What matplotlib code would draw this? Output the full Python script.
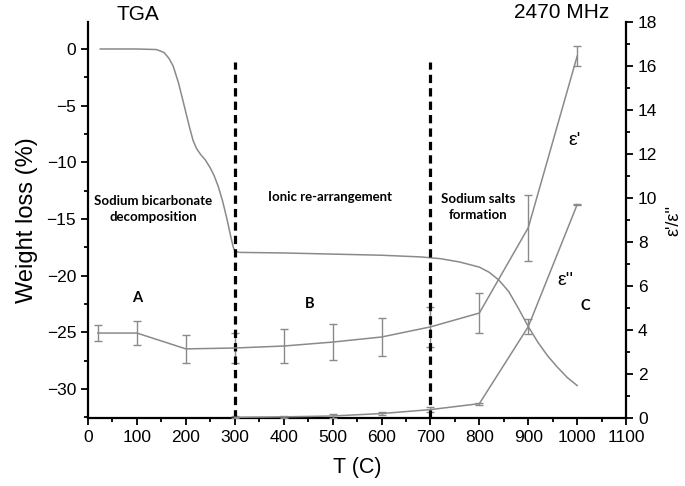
import matplotlib
matplotlib.use("Agg")
import matplotlib.pyplot as plt
from matplotlib.ticker import MultipleLocator

plt.rcParams['font.family'] = ['Liberation Sans', 'DejaVu Sans']

# TGA curve (weight loss, left axis)
tga_t = [25, 60, 100, 140, 155, 165, 174, 185, 192, 200, 208, 215, 222, 230,
         240, 250, 258, 266, 275, 284, 292, 297, 300, 310, 400, 500, 600, 680,
         720, 760, 800, 820, 840, 860, 880, 900, 920, 940, 960, 980, 1000]
tga_w = [0.0, 0.0, 0.0, -0.05, -0.3, -0.8, -1.5, -3.0, -4.2, -5.6, -7.0, -8.1,
         -8.8, -9.3, -9.8, -10.5, -11.2, -12.1, -13.4, -15.0, -16.6, -17.5,
         -17.85, -17.95, -18.0, -18.1, -18.2, -18.35, -18.5, -18.8, -19.25,
         -19.7, -20.4, -21.4, -22.9, -24.5, -25.9, -27.1, -28.1, -29.0, -29.7]

# dielectric data (right axis)
eps_t = [20, 100, 200, 300, 400, 500, 600, 700, 800, 900, 1000]
eps1 = [3.86, 3.86, 3.14, 3.18, 3.27, 3.45, 3.68, 4.14, 4.77, 8.65, 16.45]
eps1_err = [0.37, 0.55, 0.65, 0.7, 0.77, 0.8, 0.85, 0.9, 0.9, 1.5, 0.45]

eps2_t = [300, 400, 500, 600, 700, 800, 900, 1000]
eps2 = [0.03, 0.05, 0.09, 0.2, 0.38, 0.65, 4.15, 9.7]
eps2_err = [0.04, 0.04, 0.08, 0.08, 0.1, 0.05, 0.35, 0.03]

region_edges = [300, 700]

gray = '#8a8a8a'

fig = plt.figure(figsize=(6.85, 4.86), dpi=100)
ax = fig.add_axes([0.1285, 0.140, 0.7855, 0.8147])
ax2 = ax.twinx()

ax.plot(tga_t, tga_w, color=gray, lw=1.1)

ax2.errorbar(eps_t, eps1, yerr=eps1_err, color=gray, lw=1.1, capsize=2.6,
             elinewidth=1.0, capthick=1.0)
ax2.errorbar(eps2_t, eps2, yerr=eps2_err, color=gray, lw=1.1, capsize=2.6,
             elinewidth=1.0, capthick=1.0)

for xe in region_edges:
    ax2.axvline(xe, ymin=0, ymax=0.899, color='black', lw=2.3,
                linestyle=(0, (2.6, 1.6)))

ax.set_xlim(0, 1100)
ax.set_ylim(-32.56, 2.38)
ax2.set_ylim(0, 18)

ax.xaxis.set_major_locator(MultipleLocator(100))
ax.xaxis.set_minor_locator(MultipleLocator(50))
ax.yaxis.set_major_locator(MultipleLocator(5))
ax.yaxis.set_minor_locator(MultipleLocator(2.5))
ax2.yaxis.set_major_locator(MultipleLocator(2))
ax2.yaxis.set_minor_locator(MultipleLocator(1))

for a in (ax, ax2):
    a.spines['top'].set_visible(False)
    for s in ('left', 'right', 'bottom'):
        a.spines[s].set_linewidth(1.6)
    a.tick_params(which='major', length=5, width=1.3, labelsize=12.5,
                  direction='out')
    a.tick_params(which='minor', length=2.6, width=1.3, direction='out')
ax.spines['right'].set_visible(False)
ax2.spines['left'].set_visible(False)
ax2.spines['bottom'].set_visible(False)

ax.set_xlabel('T (C)', fontsize=15.5, labelpad=9)
ax.set_ylabel('Weight loss (%)', fontsize=17, labelpad=6)
ax2.set_ylabel("ε'/ε''", fontsize=13, labelpad=6)

ax2.text(102, 18.35, 'TGA', fontsize=15, ha='center', va='center', clip_on=False)
ax2.text(969, 18.45, '2470 MHz', fontsize=15, ha='center', va='center', clip_on=False)

bold = dict(family=['Lato', 'DejaVu Sans'], weight='bold', fontsize=9.5,
            ha='center', va='center', linespacing=1.35)
ax2.text(133, 9.5, 'Sodium bicarbonate\ndecomposition', **bold)
ax2.text(495, 10.05, 'Ionic re-arrangement', **bold)
ax2.text(797, 9.6, 'Sodium salts\nformation', **bold)
ax2.text(100, 5.45, 'A', **dict(bold, fontsize=10.5))
ax2.text(454, 5.2, 'B', **dict(bold, fontsize=10.5))
ax2.text(1016, 5.1, 'C', **dict(bold, fontsize=10.5))

ax2.text(994, 12.6, "ε'", fontsize=14, ha='center', va='center')
ax2.text(975, 6.25, "ε''", fontsize=14, ha='center', va='center')

fig.savefig('out.png', dpi=100)
